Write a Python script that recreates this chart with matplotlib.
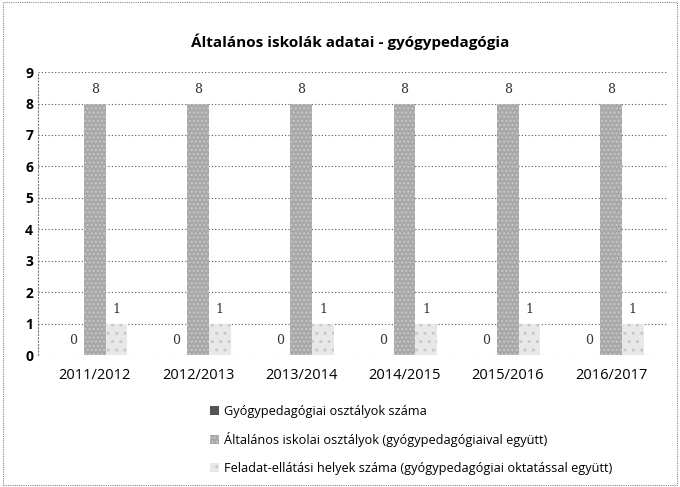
import matplotlib
matplotlib.use("Agg")
import matplotlib.pyplot as plt
import numpy as np

categories = ["2011/2012", "2012/2013", "2013/2014", "2014/2015", "2015/2016", "2016/2017"]
series_names = [
    "Gyógypedagógiai osztályok száma",
    "Általános iskolai osztályok (gyógypedagógiaival együtt)",
    "Feladat-ellátási helyek száma (gyógypedagógiai oktatással együtt)",
]
gyogy = [0, 0, 0, 0, 0, 0]
altalanos = [8, 8, 8, 8, 8, 8]
feladat = [1, 1, 1, 1, 1, 1]
yticks = list(range(0, 10))

plt.rcParams['font.family'] = ['Open Sans', 'DejaVu Sans']

fig = plt.figure(figsize=(6.8, 4.87), dpi=100)
ax = fig.add_axes([0.056, 0.271, 0.926, 0.581])

x = np.arange(len(categories))
w = 0.21
colors = ['#555555', '#a8a8a8', '#e8e8e8']
hatches = [None, '....', '..']
data = [gyogy, altalanos, feladat]
for i, (vals, c, h) in enumerate(zip(data, colors, hatches)):
    bars = ax.bar(x + (i - 1) * w, vals, w, color=c, hatch=h, edgecolor='#c8c8c8' if h else c,
                  linewidth=0, label=series_names[i])
    for b, v in zip(bars, vals):
        ax.text(b.get_x() + b.get_width() / 2, v + 0.25, str(v), ha='center', va='bottom',
                fontsize=9, family='DejaVu Serif', color='#333333')

ax.set_xlim(-0.55, len(categories) - 0.45)
ax.set_ylim(0, 9)
ax.set_yticks(yticks)
ax.set_yticklabels([str(t) for t in yticks], fontsize=10, fontweight='bold')
ax.set_xticks(x)
ax.set_xticklabels(categories, fontsize=10.5)
ax.tick_params(axis='both', length=0)
ax.tick_params(axis='x', pad=9)
ax.grid(axis='y', linestyle=(0, (1, 2)), color='#555555', linewidth=0.8)
ax.set_axisbelow(True)
for s in ['top', 'right', 'bottom']:
    ax.spines[s].set_visible(False)
ax.spines['left'].set_linestyle((0, (1, 2)))
ax.spines['left'].set_color('#777777')

fig.text(0.515, 0.915, "Általános iskolák adatai - gyógypedagógia", ha='center', va='center',
         fontsize=11, fontweight='bold')

leg = ax.legend(loc='upper left', bbox_to_anchor=(0.255, -0.135), frameon=False, fontsize=9.2,
                handlelength=0.7, handleheight=0.7, labelspacing=1.15, handletextpad=0.4)

# outer border
fig.patches.append(plt.Rectangle((0.005, 0.005), 0.99, 0.99, transform=fig.transFigure,
                                 fill=False, edgecolor='#888888', linewidth=0.8, linestyle=(0, (1, 1))))

fig.savefig("out.png", dpi=100)
